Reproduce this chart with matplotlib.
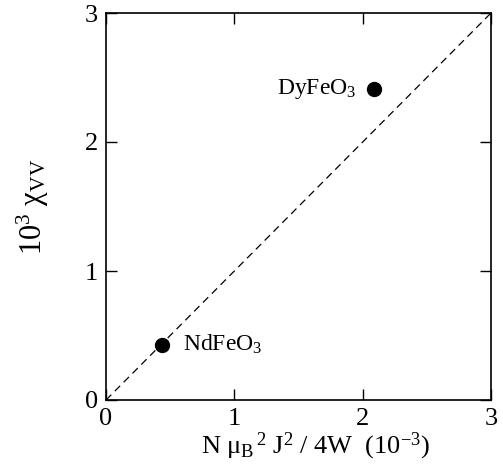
import matplotlib
matplotlib.use("Agg")
import matplotlib.pyplot as plt

compounds = ["NdFeO$_3$", "DyFeO$_3$"]
x_vals = [0.44, 2.09]
y_vals = [0.43, 2.41]
ticks = [0, 1, 2, 3]

plt.rcParams['font.family'] = ['Liberation Serif', 'DejaVu Serif']
plt.rcParams['mathtext.fontset'] = 'custom'
plt.rcParams['mathtext.rm'] = 'Liberation Serif'
plt.rcParams['mathtext.it'] = 'Liberation Serif:italic'
plt.rcParams['mathtext.bf'] = 'Liberation Serif:bold'

fig = plt.figure(figsize=(5.03, 4.70), dpi=100)
ax = fig.add_axes([106/503, 1-400/470, 385/503, 387/470])

ax.plot([0, 3], [0, 3], ls=(0, (6, 4)), color='black', lw=0.9)
ax.scatter(x_vals, y_vals, s=100, color='black', zorder=3)

ax.text(x_vals[0] + 0.16, y_vals[0], compounds[0], fontsize=17, va='center', ha='left')
ax.text(x_vals[1] - 0.14, y_vals[1], compounds[1], fontsize=17, va='center', ha='right')

ax.set_xlim(0, 3)
ax.set_ylim(0, 3)
ax.set_xticks(ticks)
ax.set_yticks(ticks)
ax.tick_params(direction='in', top=True, right=True, length=8, width=1, labelsize=19, pad=6)
for s in ax.spines.values():
    s.set_linewidth(1.2)

ax.set_xlabel(r"N $\mathrm{μ}_{\mathrm{B}}$$^{\,2}$ J$^2$ / 4W  (10$^{-3}$)", fontsize=19)
ax.xaxis.set_label_coords(0.545, -0.078)
ax.xaxis.label.set_va('top')
ax.set_ylabel(r"10$^3$ $\mathrm{χ}_{\mathrm{VV}}$", fontsize=22, labelpad=24)

fig.savefig("out.png", dpi=100)
